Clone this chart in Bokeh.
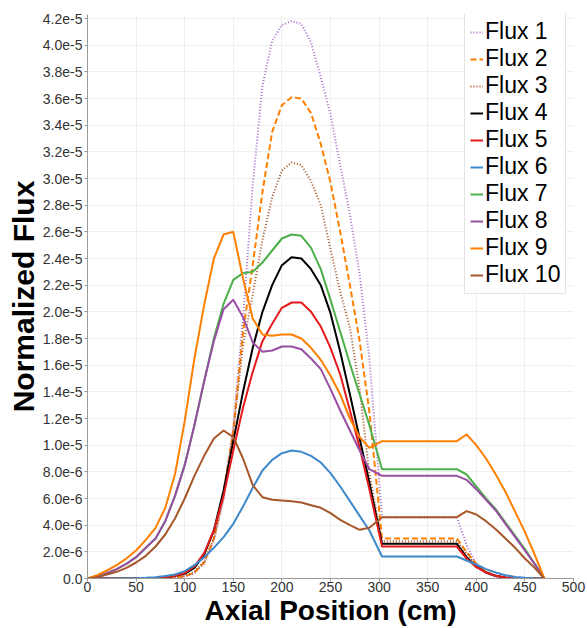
from bokeh.plotting import figure
from bokeh.models import ColumnDataSource, Legend, LegendItem, FixedTicker, Range1d
from bokeh.embed import file_html
from bokeh.resources import INLINE

# Axial positions (cm)
x_cm = [0, 10, 20, 30, 40, 50, 60, 70, 80, 90, 100, 110, 120, 130, 140, 150, 160, 170,
        180, 190, 200, 210, 220, 230, 240, 250, 260, 270, 280, 290, 303, 380, 390, 400,
        410, 420, 430, 440, 450, 460, 470]

# Normalized flux values, in units of 1e-6
flux_1 = [0, 0, 0, 0, 0, 0, 0.01, 0.02, 0.04, 0.08, 0.15, 0.4, 1.1, 2.8, 6.0, 11.5, 19.5, 29.5,
          37.0, 40.3, 41.5, 41.8, 41.6, 40.2, 37.6, 34.8, 31.0, 27.3, 22.8, 16.5, 4.6, 4.6, 2.5, 1.1,
          0.4, 0.1, 0.02, 0, 0, 0, 0]
flux_2 = [0, 0, 0, 0, 0, 0, 0.01, 0.02, 0.05, 0.09, 0.15, 0.45, 1.2, 3.0, 6.5, 11.0, 18.5, 23.5,
          29.0, 33.5, 35.5, 36.1, 36.0, 34.9, 32.6, 29.7, 26.0, 22.0, 17.8, 12.5, 3.0, 3.0, 2.0, 1.1,
          0.5, 0.2, 0.05, 0.01, 0, 0, 0]
flux_3 = [0, 0, 0, 0, 0, 0, 0.01, 0.03, 0.06, 0.1, 0.2, 0.5, 1.3, 3.0, 6.0, 11.0, 17.5, 21.3,
          25.4, 28.6, 30.6, 31.2, 31.0, 29.8, 28.0, 24.7, 21.5, 18.8, 14.2, 7.8, 2.8, 2.8, 1.9, 1.0,
          0.5, 0.2, 0.06, 0.02, 0, 0, 0]
flux_4 = [0, 0, 0, 0, 0, 0, 0.02, 0.05, 0.1, 0.2, 0.35, 0.8, 1.8, 3.6, 6.6, 10.3, 14.0, 17.3,
          20.0, 22.0, 23.5, 24.1, 24.0, 23.2, 22.0, 19.9, 17.0, 13.8, 10.5, 7.2, 2.6, 2.6, 1.6, 0.9,
          0.45, 0.2, 0.08, 0.03, 0.01, 0, 0]
flux_5 = [0, 0, 0, 0, 0, 0, 0.02, 0.05, 0.1, 0.2, 0.4, 0.9, 1.9, 3.6, 6.2, 9.6, 12.8, 15.5,
          17.8, 19.1, 20.3, 20.7, 20.7, 20.0, 18.9, 17.3, 15.3, 12.6, 9.8, 6.7, 2.4, 2.4, 1.5, 0.85,
          0.45, 0.2, 0.08, 0.03, 0.01, 0, 0]
flux_6 = [0, 0, 0, 0, 0.01, 0.02, 0.05, 0.1, 0.18, 0.3, 0.55, 1.0, 1.6, 2.3, 3.1, 4.1, 5.4, 6.8,
          8.1, 8.9, 9.4, 9.6, 9.5, 9.2, 8.7, 7.9, 6.9, 5.8, 4.7, 3.6, 1.65, 1.65, 1.35, 1.05,
          0.7, 0.45, 0.25, 0.12, 0.05, 0.02, 0]
flux_7 = [0, 0.15, 0.4, 0.7, 1.1, 1.6, 2.3, 3.0, 4.3, 6.2, 8.5, 11.5, 14.8, 18.0, 20.6, 22.4, 22.9,
          23.0, 23.7, 24.6, 25.5, 25.8, 25.7, 24.8, 23.2, 20.9, 18.5, 16.1, 13.8, 11.5, 8.2, 8.2,
          7.8, 6.9, 6.0, 5.2, 4.2, 3.2, 2.2, 1.1, 0]
flux_8 = [0, 0.15, 0.4, 0.7, 1.1, 1.6, 2.3, 3.0, 4.3, 6.2, 8.5, 11.5, 14.8, 17.8, 20.2, 20.9, 19.6,
          17.7, 17.0, 17.1, 17.4, 17.4, 17.2, 16.5, 15.7, 14.2, 12.6, 11.1, 9.6, 8.2, 7.7, 7.7,
          7.4, 6.7, 5.9, 5.1, 4.1, 3.1, 2.1, 1.1, 0]
flux_9 = [0, 0.25, 0.6, 1.0, 1.5, 2.1, 2.9, 3.8, 5.3, 7.8, 11.8, 16.5, 20.5, 24.0, 25.8, 26.0, 22.5,
          19.5, 18.3, 18.2, 18.3, 18.3, 18.0, 17.3, 16.4, 15.2, 13.8, 12.0, 10.6, 9.8, 10.3, 10.3,
          10.8, 10.0, 9.0, 7.8, 6.5, 5.0, 3.5, 1.8, 0]
flux_10 = [0, 0.1, 0.3, 0.5, 0.8, 1.2, 1.7, 2.4, 3.3, 4.5, 6.0, 7.7, 9.2, 10.5, 11.1, 10.6, 9.0,
           7.0, 6.1, 5.9, 5.85, 5.8, 5.7, 5.5, 5.3, 4.9, 4.4, 4.0, 3.65, 3.8, 4.6, 4.6, 5.05, 4.8,
           4.3, 3.7, 3.0, 2.3, 1.5, 0.8, 0]

series_names = ["Flux 1", "Flux 2", "Flux 3", "Flux 4", "Flux 5",
                "Flux 6", "Flux 7", "Flux 8", "Flux 9", "Flux 10"]
series_values = [flux_1, flux_2, flux_3, flux_4, flux_5, flux_6, flux_7, flux_8, flux_9, flux_10]
series_colors = ["#a66fcb", "#ff7f00", "#a65628", "#000000", "#e41a1c",
                 "#3f88c9", "#4daf4a", "#984ea3", "#ff7f00", "#a65628"]
series_dashes = ["1 2", "6 3", "1 2", "solid", "solid", "solid", "solid", "solid", "solid", "solid"]

x_ticks = [0, 50, 100, 150, 200, 250, 300, 350, 400, 450, 500]
y_ticks = [0, 2, 4, 6, 8, 10, 12, 14, 16, 18, 20, 22, 24, 26, 28, 30, 32, 34, 36, 38, 40, 42]
y_tick_labels = ["0.0", "2.0e-6", "4.0e-6", "6.0e-6", "8.0e-6", "1.0e-5", "1.2e-5", "1.4e-5",
                 "1.6e-5", "1.8e-5", "2.0e-5", "2.2e-5", "2.4e-5", "2.6e-5", "2.8e-5", "3.0e-5",
                 "3.2e-5", "3.4e-5", "3.6e-5", "3.8e-5", "4.0e-5", "4.2e-5"]

FONT = "Liberation Sans"

p = figure(width=587, height=628, output_backend="svg", toolbar_location=None,
           x_range=Range1d(0, 500), y_range=Range1d(0, 42.3),
           min_border_left=87, min_border_right=14, min_border_top=14, min_border_bottom=48)
p.outline_line_color = None
p.background_fill_color = "white"

items = []
for name, vals, col, dash in zip(series_names, series_values, series_colors, series_dashes):
    src = ColumnDataSource(dict(x=x_cm, y=vals))
    r = p.line("x", "y", source=src, line_color=col, line_width=2, line_dash=dash)
    items.append(LegendItem(label=name, renderers=[r]))

legend = Legend(items=items, location=(377, 284), margin=0, padding=5, spacing=0,
                glyph_width=13, glyph_height=20, label_standoff=2,
                label_text_font=FONT, label_text_font_size="23px", label_text_color="black",
                border_line_color="#c8c8c8", border_line_width=1,
                background_fill_color="white", background_fill_alpha=1.0)
p.add_layout(legend)

p.xaxis.ticker = FixedTicker(ticks=x_ticks)
p.yaxis.ticker = FixedTicker(ticks=y_ticks)
p.yaxis.major_label_overrides = dict(zip(y_ticks, y_tick_labels))

for ax in (p.xaxis[0], p.yaxis[0]):
    ax.axis_line_color = "#9a9a9a"
    ax.axis_line_width = 1
    ax.major_tick_line_color = "#9a9a9a"
    ax.major_tick_out = 3
    ax.major_tick_in = 0
    ax.minor_tick_line_color = None
    ax.major_label_text_font = FONT
    ax.major_label_text_font_size = "14px"
    ax.major_label_text_color = "#333333"
    ax.axis_label_text_font = FONT
    ax.axis_label_text_font_style = "bold"
    ax.axis_label_text_color = "black"
    ax.axis_label_standoff = 0

p.xaxis.axis_label_text_font_size = "28px"
p.yaxis.axis_label_text_font_size = "30px"
p.xaxis.major_label_standoff = 0
p.yaxis.major_label_standoff = 2
p.xaxis.axis_label = "Axial Position (cm)"
p.yaxis.axis_label = "Normalized Flux"

p.xgrid.grid_line_color = "#efefef"
p.ygrid.grid_line_color = "#efefef"

open("out.html", "w").write(file_html(p, INLINE))
